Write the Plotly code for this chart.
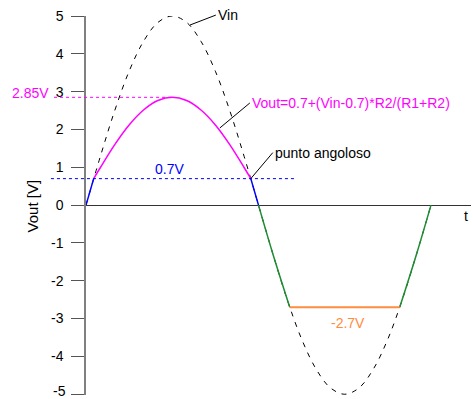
import plotly.graph_objects as go

# ---- data (t in periods, voltages in V) ----
t_vin = [0, 0.0417, 0.0833, 0.125, 0.1667, 0.2083, 0.25, 0.2917, 0.3333, 0.375, 0.4167, 0.4583, 0.5,
         0.5417, 0.5833, 0.625, 0.6667, 0.7083, 0.75, 0.7917, 0.8333, 0.875, 0.9167, 0.9583, 1.0]
vin = [0, 1.29, 2.5, 3.54, 4.33, 4.83, 5, 4.83, 4.33, 3.54, 2.5, 1.29, 0,
       -1.29, -2.5, -3.54, -4.33, -4.83, -5, -4.83, -4.33, -3.54, -2.5, -1.29, 0]

t_mag = [0.0223, 0.0417, 0.0833, 0.125, 0.1667, 0.2083, 0.25, 0.2917, 0.3333, 0.375, 0.4167, 0.4583, 0.4777]
v_mag = [0.7, 0.995, 1.6, 2.12, 2.515, 2.765, 2.85, 2.765, 2.515, 2.12, 1.6, 0.995, 0.7]

t_blue1, v_blue1 = [0, 0.0223], [0, 0.7]
t_blue2, v_blue2 = [0.4777, 0.5], [0.7, 0]

t_green1, v_green1 = [0.5, 0.5417, 0.5907], [0, -1.29, -2.7]
t_green2, v_green2 = [0.9093, 0.9583, 1.0], [-2.7, -1.29, 0]

t_orange, v_orange = [0.5907, 0.9093], [-2.7, -2.7]

V_KNEE = 0.7
V_PEAK_OUT = 2.85
V_NEG_CLIP = -2.7
y_ticks = [-5, -4, -3, -2, -1, 0, 1, 2, 3, 4, 5]
y_ticktext = ["-5", "-4", "-3", "-2", "-1", "0", "1", "2", "3", "4", "5"]

X_RANGE = [0, 1.116]
Y_RANGE = [-5.02, 5.0]
FONT = "Liberation Sans, Arial, sans-serif"
MAG = "#ff00ff"
BLUE = "#0000ff"
GREEN = "#1e8c32"
ORANGE = "#ff8c40"


def paper_x(t):
    return (t - X_RANGE[0]) / (X_RANGE[1] - X_RANGE[0])


fig = go.Figure()
fig.add_trace(go.Scatter(x=t_vin, y=vin, mode="lines",
                         line=dict(color="black", width=1, dash="5px,6px", shape="spline")))
fig.add_trace(go.Scatter(x=t_mag, y=v_mag, mode="lines",
                         line=dict(color=MAG, width=1.5, shape="spline")))
for tx, vy in [(t_blue1, v_blue1), (t_blue2, v_blue2)]:
    fig.add_trace(go.Scatter(x=tx, y=vy, mode="lines", line=dict(color=BLUE, width=1.5)))
for tx, vy in [(t_green1, v_green1), (t_green2, v_green2)]:
    fig.add_trace(go.Scatter(x=tx, y=vy, mode="lines", line=dict(color=GREEN, width=1.5, shape="spline")))
fig.add_trace(go.Scatter(x=t_orange, y=v_orange, mode="lines", line=dict(color=ORANGE, width=2)))

shapes = [
    dict(type="line", xref="paper", yref="y", x0=-0.083, x1=paper_x(0.25), y0=V_PEAK_OUT, y1=V_PEAK_OUT,
         line=dict(color=MAG, width=1, dash="3px,3px")),
    dict(type="line", xref="paper", yref="y", x0=-0.091, x1=0.548, y0=V_KNEE, y1=V_KNEE,
         line=dict(color=BLUE, width=1, dash="3px,3px")),
]

# bottom tick label (Plotly drops the one that overflows the page edge), drawn as text
bottom_label = y_ticktext[0]
tick_text_axis = [""] + y_ticktext[1:]

annotations = [
    dict(text=bottom_label, xref="paper", yref="y", x=-0.047, y=y_ticks[0], xanchor="right",
         yanchor="middle", yshift=3, showarrow=False, font=dict(color="black", size=14, family=FONT)),
    dict(text="2.85V", xref="paper", yref="y", x=-0.09, y=V_PEAK_OUT, xanchor="right", yanchor="middle",
         yshift=4, showarrow=False, font=dict(color=MAG, size=14, family=FONT)),
    dict(text="0.7V", x=0.243, y=V_KNEE, xanchor="center", yanchor="bottom", yshift=0,
         showarrow=False, font=dict(color=BLUE, size=14, family=FONT)),
    dict(text="-2.7V", x=0.76, y=V_NEG_CLIP, xanchor="center", yanchor="top", yshift=-6,
         showarrow=False, font=dict(color=ORANGE, size=14, family=FONT)),
    dict(text="Vin", x=0.301, y=4.76, ax=26, ay=-10, xanchor="left", yanchor="middle",
         showarrow=True, arrowhead=0, arrowwidth=1, arrowcolor="black",
         font=dict(color="black", size=14, family=FONT)),
    dict(text="Vout=0.7+(Vin-0.7)*R2/(R1+R2)", x=0.388, y=2.04, ax=30, ay=-25,
         xanchor="left", yanchor="middle", showarrow=True, arrowhead=0, arrowwidth=1,
         arrowcolor="black", font=dict(color=MAG, size=14, family=FONT)),
    dict(text="punto angoloso", x=0.4777, y=V_KNEE, ax=22, ay=-26,
         xanchor="left", yanchor="middle", showarrow=True, arrowhead=0, arrowwidth=1,
         arrowcolor="black", font=dict(color="black", size=14, family=FONT)),
    dict(text="t", xref="paper", yref="y", x=0.987, y=0, xanchor="center", yanchor="top", yshift=-1,
         showarrow=False, font=dict(color="black", size=14, family=FONT)),
    dict(text="Vout [V]", xref="paper", yref="paper", x=-0.1377, y=0.5, textangle=-90,
         xanchor="center", yanchor="middle", showarrow=False,
         font=dict(color="black", size=15, family=FONT)),
]

fig.update_layout(
    width=473, height=399,
    margin=dict(l=86, r=2, t=16, b=4, autoexpand=False),
    paper_bgcolor="white", plot_bgcolor="white",
    showlegend=False,
    font=dict(family=FONT, size=14, color="black"),
    xaxis=dict(range=X_RANGE, showgrid=False, zeroline=False, showline=False,
               showticklabels=False, ticks="", automargin=False),
    yaxis=dict(range=Y_RANGE, showgrid=False, zeroline=True, zerolinecolor="#333333", zerolinewidth=1,
               showline=True, linecolor="#808080", linewidth=1.5, automargin=False,
               ticks="outside", ticklen=13, tickwidth=1, tickcolor="#555555",
               tickvals=y_ticks, ticktext=tick_text_axis,
               ticklabelstandoff=5, tickfont=dict(size=14, family=FONT, color="black")),
    shapes=shapes,
    annotations=annotations,
)

fig.write_html("out.html", config={"displayModeBar": False},
               post_script="document.body.style.margin='0';document.body.style.overflow='hidden';")
